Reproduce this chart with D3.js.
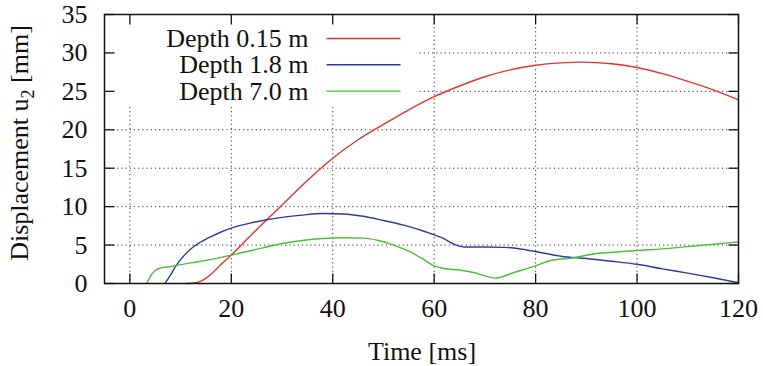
<!DOCTYPE html>
<html>
<head>
<meta charset="utf-8">
<script src="https://cdn.jsdelivr.net/npm/d3@7"></script>
<style>
  body { margin: 0; background: #fff; }
</style>
</head>
<body>
<div id="chart"></div>
<script>
// time [ms] and displacement [mm]
var redT = [11, 13, 14, 16, 18, 20, 23, 27, 30, 35, 40, 45, 50, 55, 60, 65, 70, 75, 80, 85, 89, 95, 100, 105, 110, 115, 120];
var redV = [0, 0.1, 0.3, 1.2, 2.5, 3.7, 5.7, 8.3, 10.2, 13.4, 16.3, 18.7, 20.7, 22.6, 24.3, 25.7, 26.9, 27.8, 28.4, 28.7, 28.8, 28.6, 28.1, 27.3, 26.3, 25.2, 23.9];

var blueT = [6.9, 8, 9, 10, 12, 14, 16, 18, 20, 24, 27, 30, 34, 38, 42, 46, 50, 54, 58, 62, 64, 66, 70, 74, 78, 82, 85, 90, 95, 100, 105, 110, 115, 120];
var blueV = [0, 1.1, 2.2, 3.1, 4.5, 5.4, 6.1, 6.7, 7.2, 7.9, 8.3, 8.6, 8.9, 9.1, 9.05, 8.75, 8.2, 7.6, 6.8, 5.8, 5.1, 4.75, 4.75, 4.7, 4.4, 3.9, 3.55, 3.25, 2.9, 2.5, 1.9, 1.35, 0.75, 0.1];

var greenT = [3.3, 3.8, 4.3, 5, 6, 8, 10, 14, 18, 22, 26, 30, 34, 38, 42, 46, 49, 52, 55, 58, 60, 62, 65, 68, 72, 76, 80, 83, 87, 92, 96, 100, 105, 110, 115, 120];
var greenV = [0, 0.6, 1.2, 1.7, 2.0, 2.2, 2.45, 2.9, 3.4, 4.0, 4.6, 5.2, 5.6, 5.85, 5.95, 5.9, 5.6, 5.0, 4.2, 3.1, 2.3, 1.95, 1.75, 1.4, 0.7, 1.5, 2.3, 3.0, 3.3, 3.9, 4.1, 4.3, 4.5, 4.8, 5.1, 5.4];

var labels = ["Depth 0.15 m", "Depth 1.8 m", "Depth 7.0 m"];
var colors = ["#e3342b", "#2b3d9a", "#4bbf3a"];

var xTicks = [0, 20, 40, 60, 80, 100, 120];
var yTicks = [0, 5, 10, 15, 20, 25, 30, 35];

var margin = {top: 14.5, right: 24.5, bottom: 82.5, left: 104.5},
    width = 763 - margin.left - margin.right,
    height = 366 - margin.top - margin.bottom;

var svg = d3.select("#chart")
  .append("svg")
    .attr("width", 763)
    .attr("height", 366);

// every text gets its font set on itself
function txt(sel, size) {
  return sel.append("text")
    .style("font-family", "Liberation Serif")
    .style("font-size", (size || 26) + "px")
    .style("fill", "#111");
}

var g = svg.append("g")
    .attr("transform", "translate(" + margin.left + "," + margin.top + ")");

var x = d3.scaleLinear().domain([-5, 120]).range([0, width]);
var y = d3.scaleLinear().domain([0, 35]).range([height, 0]);

// grid
g.selectAll(".vgrid")
  .data(xTicks)
  .enter().append("line")
    .attr("x1", d => x(d)).attr("x2", d => x(d))
    .attr("y1", 0).attr("y2", height)
    .attr("stroke", "#333").attr("stroke-width", 1)
    .attr("stroke-dasharray", "1.2,3");
g.selectAll(".hgrid")
  .data(yTicks.slice(1, -1))
  .enter().append("line")
    .attr("x1", 0).attr("x2", width)
    .attr("y1", d => y(d)).attr("y2", d => y(d))
    .attr("stroke", "#333").attr("stroke-width", 1)
    .attr("stroke-dasharray", "1.2,3");

// legend background hides grid
g.append("rect")
  .attr("x", 0).attr("y", 0)
  .attr("width", 312).attr("height", 92)
  .attr("fill", "#fff");

// curves
var series = [
  {t: redT, v: redV},
  {t: blueT, v: blueV},
  {t: greenT, v: greenV}
];
var line = d3.line()
  .x(d => x(d[0]))
  .y(d => y(d[1]))
  .curve(d3.curveMonotoneX);

series.forEach(function(s, i) {
  var pts = s.t.map((t, j) => [t, s.v[j]]);
  g.append("path")
    .datum(pts)
    .attr("d", line)
    .attr("fill", "none")
    .attr("stroke", colors[i])
    .attr("stroke-width", 1.4);
});

// ticks (inward, mirrored)
var tl = 10;
xTicks.forEach(function(d) {
  g.append("line").attr("x1", x(d)).attr("x2", x(d)).attr("y1", height).attr("y2", height - tl)
    .attr("stroke", "#111").attr("stroke-width", 1.3);
  g.append("line").attr("x1", x(d)).attr("x2", x(d)).attr("y1", 0).attr("y2", tl)
    .attr("stroke", "#111").attr("stroke-width", 1.3);
  txt(g)
    .attr("x", x(d)).attr("y", height + 33)
    .attr("text-anchor", "middle")
    .text(d);
});
yTicks.forEach(function(d) {
  g.append("line").attr("x1", 0).attr("x2", tl).attr("y1", y(d)).attr("y2", y(d))
    .attr("stroke", "#111").attr("stroke-width", 1.3);
  g.append("line").attr("x1", width).attr("x2", width - tl).attr("y1", y(d)).attr("y2", y(d))
    .attr("stroke", "#111").attr("stroke-width", 1.3);
  txt(g)
    .attr("x", -17).attr("y", y(d) + 8.5)
    .attr("text-anchor", "end")
    .text(d);
});

// frame
g.append("rect")
  .attr("width", width).attr("height", height)
  .attr("fill", "none").attr("stroke", "#111").attr("stroke-width", 1.5);

// legend
labels.forEach(function(l, i) {
  var ly = 24 + i * 26.3;
  txt(g)
    .attr("x", 204).attr("y", ly + 8.5)
    .attr("text-anchor", "end")
    .text(l);
  g.append("line")
    .attr("x1", 222).attr("x2", 296)
    .attr("y1", ly).attr("y2", ly)
    .attr("stroke", colors[i]).attr("stroke-width", 1.4);
});

// axis titles
txt(svg)
  .attr("x", 422).attr("y", 360)
  .attr("text-anchor", "middle")
  .text("Time [ms]");

var yl = txt(svg)
  .attr("transform", "translate(28,143) rotate(-90)")
  .attr("text-anchor", "middle");
yl.append("tspan").text("Displacement u");
yl.append("tspan").attr("dy", 6).style("font-size", "18px").text("2");
yl.append("tspan").attr("dy", -6).text(" [mm]");
</script>
</body>
</html>
